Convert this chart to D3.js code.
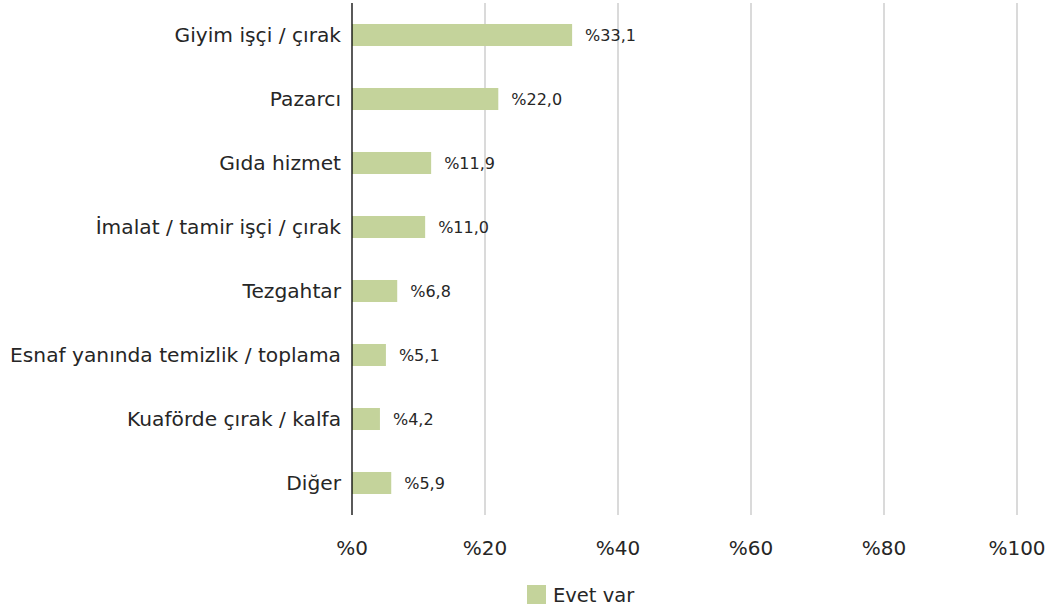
<!DOCTYPE html>
<html>
<head>
<meta charset="utf-8">
<script src="https://cdn.jsdelivr.net/npm/d3@7"></script>
<style>
  body { margin: 0; background: #fff; }
  svg { display: block; font-family: "DejaVu Sans", sans-serif; }
</style>
</head>
<body>
<svg id="chart" width="1054" height="611"></svg>
<script>
const categories = ["Giyim işçi / çırak", "Pazarcı", "Gıda hizmet", "İmalat / tamir işçi / çırak", "Tezgahtar", "Esnaf yanında temizlik / toplama", "Kuaförde çırak / kalfa", "Diğer"];
const values = [33.1, 22.0, 11.9, 11.0, 6.8, 5.1, 4.2, 5.9];
const valueLabels = ["%33,1", "%22,0", "%11,9", "%11,0", "%6,8", "%5,1", "%4,2", "%5,9"];
const ticks = [0, 20, 40, 60, 80, 100];
const tickLabels = ["%0", "%20", "%40", "%60", "%80", "%100"];
const seriesName = "Evet var";

(function () {
const svg = d3.select("#chart");
const mLeft = 352, mRight = 1017, mTop = 3, mBottom = 515;
const color = "#c4d39b";
const textColor = "#262626";

const x = d3.scaleLinear().domain([0, 100]).range([mLeft, mRight]);
const y = d3.scaleBand().domain(categories).range([mTop, mBottom]).paddingInner(0.656).paddingOuter(0.328);

svg.append("g").selectAll("line").data(ticks.filter(t => t > 0)).join("line")
  .attr("x1", d => x(d)).attr("x2", d => x(d))
  .attr("y1", mTop).attr("y2", mBottom)
  .attr("stroke", "#c6c6c6").attr("stroke-width", 1.3);

svg.append("g").selectAll("rect").data(categories).join("rect")
  .attr("x", x(0)).attr("y", d => y(d))
  .attr("width", (d, i) => x(values[i]) - x(0))
  .attr("height", y.bandwidth())
  .attr("fill", color);

svg.append("line").attr("x1", x(0)).attr("x2", x(0)).attr("y1", mTop).attr("y2", mBottom)
  .attr("stroke", "#000").attr("stroke-width", 1.3);

svg.append("g").selectAll("text").data(categories).join("text")
  .attr("x", mLeft - 11).attr("y", d => y(d) + y.bandwidth() / 2)
  .attr("dy", "0.35em").attr("text-anchor", "end")
  .attr("font-size", 20.2).attr("fill", textColor)
  .text(d => d);

svg.append("g").selectAll("text").data(categories).join("text")
  .attr("x", (d, i) => x(values[i]) + 13).attr("y", d => y(d) + y.bandwidth() / 2)
  .attr("dy", "0.35em").attr("text-anchor", "start")
  .attr("font-size", 16).attr("fill", textColor)
  .text((d, i) => valueLabels[i]);

svg.append("g").selectAll("text").data(ticks).join("text")
  .attr("x", d => x(d)).attr("y", 548).attr("dy", "0.35em")
  .attr("text-anchor", "middle").attr("font-size", 20).attr("fill", textColor)
  .text((d, i) => tickLabels[i]);

const lg = svg.append("g");
lg.append("rect").attr("x", 527).attr("y", 585).attr("width", 19).attr("height", 19).attr("fill", color);
lg.append("text").attr("x", 553).attr("y", 595).attr("dy", "0.35em")
  .attr("font-size", 19.5).attr("fill", textColor).text(seriesName);
})();
</script>
</body>
</html>
